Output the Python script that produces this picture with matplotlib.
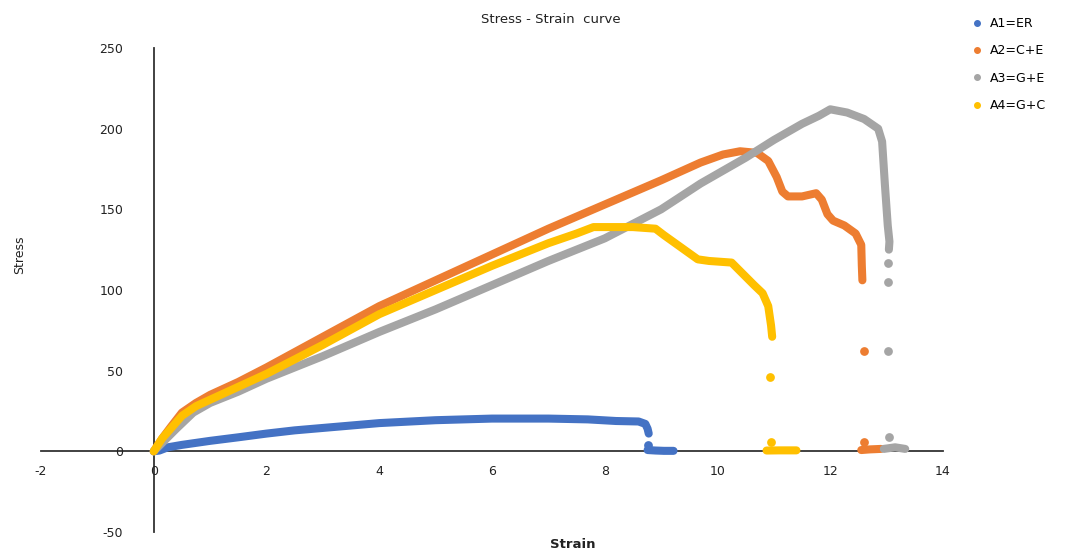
import numpy as np
import matplotlib
matplotlib.use('Agg')
import matplotlib.pyplot as plt
from matplotlib.lines import Line2D

plt.rcParams['axes.unicode_minus'] = False
nan = np.nan

# A1 = ER (blue)
a1_strain = [0, 0.1, 0.25, 0.5, 1, 1.5, 2, 2.5, 3, 4, 5, 6, 7, 7.7, 8.2, 8.6, 8.72, 8.76, 8.78,
             nan, 8.77, nan, 8.76, 8.9, 9.05, 9.22]
a1_stress = [0, 0.5, 2.5, 4, 6.5, 8.7, 11, 13, 14.5, 17.5, 19.3, 20.3, 20.3, 19.8, 18.8, 18.5, 17, 14, 11,
             nan, 4, nan, 0.8, 0.5, 0.3, 0.3]

# A2 = C+E (orange)
a2_strain = [0, 0.15, 0.3, 0.5, 0.75, 1, 1.5, 2, 3, 4, 5, 6, 7, 8, 9, 9.7, 10.1, 10.4, 10.7, 10.9,
             11.05, 11.15, 11.25, 11.5, 11.75, 11.85, 11.95, 12.05, 12.25, 12.45, 12.55, 12.56, 12.57,
             nan, 12.6, nan, 12.6, nan, 12.55, 12.7, 12.9]
a2_stress = [0, 8, 15, 24, 30, 35, 43, 52, 71, 90, 106, 122, 138, 153, 168, 179, 184, 186, 185, 180,
             170, 161, 158, 158, 160, 156, 147, 143, 140, 135, 128, 115, 106,
             nan, 62, nan, 5.6, nan, 0.8, 1.2, 1.5]

# A3 = G+E (gray)
a3_strain = [0, 0.2, 0.4, 0.7, 1, 1.5, 2, 3, 4, 5, 6, 7, 8, 9, 9.7, 10.5, 11, 11.5, 11.8, 12.0,
             12.3, 12.6, 12.85, 12.92, 12.97, 13.02, 13.05, 13.04,
             nan, 13.03, nan, 13.03, nan, 13.02, nan, 13.04, nan, 12.95, 13.15, 13.33]
a3_stress = [0, 7, 14, 24, 30, 37, 45, 59, 74, 88, 103, 118, 132, 150, 166, 182, 193, 203, 208, 212,
             210, 206, 200, 192, 165, 140, 130, 125,
             nan, 117, nan, 105, nan, 62, nan, 9, nan, 1.5, 2.5, 1.5]

# A4 = G+C (yellow)
a4_strain = [0, 0.15, 0.3, 0.5, 0.75, 1, 1.5, 2, 3, 4, 5, 6, 7, 7.5, 7.8, 8.5, 8.9, 9.05, 9.25, 9.45,
             9.65, 9.85, 10.25, 10.45, 10.65, 10.8, 10.9, 10.95, 10.97,
             nan, 10.94, nan, 10.95, nan, 10.87, 11.1, 11.4]
a4_stress = [0, 8, 14, 22, 28, 32, 40, 48, 66, 85, 100, 115, 129, 135, 139, 139, 138, 134, 129, 124,
             119, 118, 117, 110, 103, 98, 90, 78, 71,
             nan, 46, nan, 6, nan, 0.5, 0.6, 0.6]

labels = ['A1=ER', 'A2=C+E', 'A3=G+E', 'A4=G+C']
colors = ['#4472C4', '#ED7D31', '#A5A5A5', '#FFC000']
series = [(a1_strain, a1_stress), (a2_strain, a2_stress),
          (a3_strain, a3_stress), (a4_strain, a4_stress)]

fig = plt.figure(figsize=(10.92, 5.54), dpi=100)
ax = fig.add_axes([41/1092, 22/554, 902/1092, 484/554])

for (x, y), c in zip(series, colors):
    x = np.array(x, dtype=float)
    y = np.array(y, dtype=float)
    ax.plot(x, y, color=c, lw=5.8, solid_capstyle='round', solid_joinstyle='round')
    # single points between gaps get a dot, like the stray Excel markers
    ok = ~np.isnan(x)
    prev_ok = np.r_[False, ok[:-1]]
    next_ok = np.r_[ok[1:], False]
    lone = ok & ~prev_ok & ~next_ok
    ax.plot(x[lone], y[lone], ls='none', marker='o', ms=6.3, color=c, mew=0)

ax.set_xlim(-2, 14)
ax.set_ylim(-50, 250)
ax.set_xticks(np.arange(-2, 15, 2))
ax.set_yticks(np.arange(-50, 251, 50))

for s in ['top', 'right']:
    ax.spines[s].set_visible(False)
ax.spines['left'].set_position(('data', 0))
ax.spines['bottom'].set_position(('data', 0))
for s in ['left', 'bottom']:
    ax.spines[s].set_color('#333333')
    ax.spines[s].set_linewidth(1.3)
    ax.spines[s].set_zorder(1)

ax.tick_params(axis='both', length=0, labelsize=9, colors='#222222')
ax.tick_params(axis='y', pad=22)
ax.tick_params(axis='x', pad=10)

fig.text(0.504, 0.964, 'Stress - Strain  curve', ha='center', va='center', fontsize=9.5, color='#222222')
fig.text(20/1092, 1 - 255/554, 'Stress', rotation=90, ha='center', va='center', fontsize=9, color='#222222')
fig.text(573/1092, 1 - 545/554, 'Strain', ha='center', va='center', fontsize=9.5, fontweight='bold', color='#222222')

handles = [Line2D([], [], ls='none', marker='o', ms=4, color=c) for c in colors]
fig.legend(handles, labels, loc='upper left', bbox_to_anchor=(972/1092, 1 - 17/554),
           frameon=False, fontsize=9, handlelength=0.8, handletextpad=0.6, labelspacing=1.15,
           borderaxespad=0, borderpad=0)

fig.savefig('out.png', dpi=100)
